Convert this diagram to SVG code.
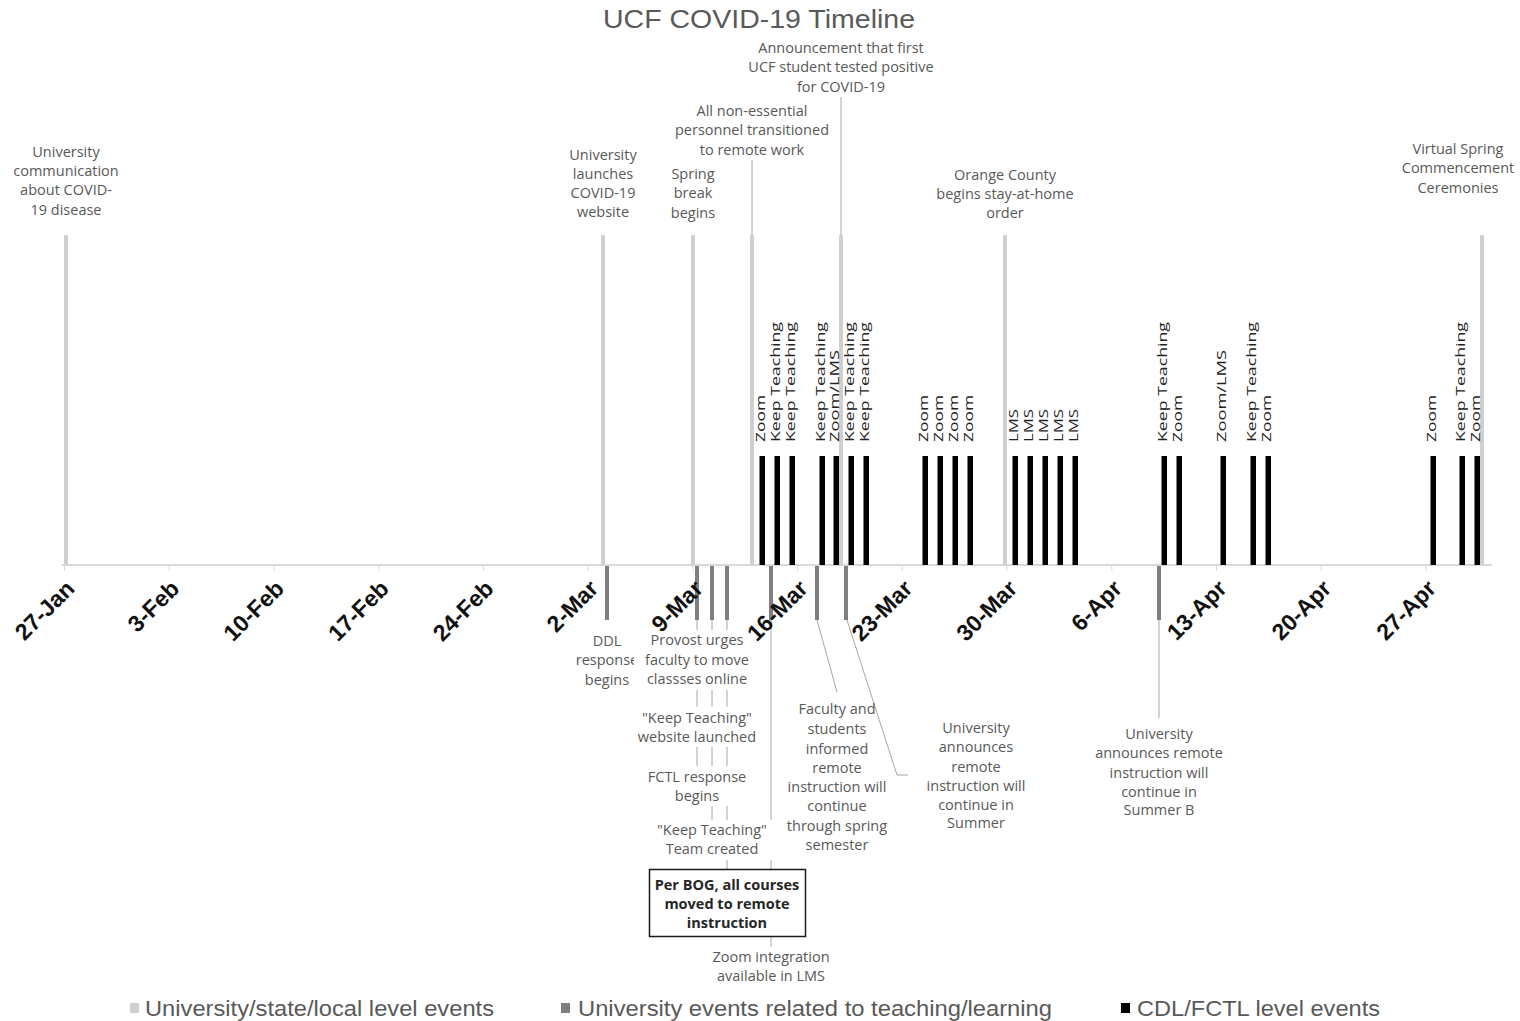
<svg xmlns="http://www.w3.org/2000/svg" width="1520" height="1021" viewBox="0 0 1520 1021">
<style>
.t{font-family:"Open Sans","Liberation Sans",sans-serif;font-size:14.5px;fill:#595959;text-anchor:middle}
.tb{font-family:"Open Sans","Liberation Sans",sans-serif;font-size:14.5px;fill:#262626;text-anchor:middle;font-weight:bold}
.rl{font-family:"Open Sans","Liberation Sans",sans-serif;font-size:13.5px;fill:#222}
.ax{font-family:"Liberation Sans",Arial,sans-serif;font-size:23px;font-weight:bold;fill:#111;text-anchor:end}
.lg{font-family:"Liberation Sans",Arial,sans-serif;font-size:22px;fill:#595959}
.b1{fill:#cfcfcf}
.b2{fill:#7f7f7f}
.b3{fill:#000}
.ld{stroke:#a6a6a6;stroke-width:1;fill:none}
.bg{fill:#fff}
</style>
<rect width="1520" height="1021" fill="#fff"/>
<text x="759" y="28" font-family="Liberation Sans, Arial, sans-serif" font-size="25" fill="#595959" text-anchor="middle" textLength="312" lengthAdjust="spacingAndGlyphs">UCF COVID-19 Timeline</text>

<g id="axis">
<line x1="62" y1="565" x2="1492" y2="565" stroke="#d9d9d9" stroke-width="2"/>
<g stroke="#d9d9d9" stroke-width="1">
<line x1="64.5" y1="565" x2="64.5" y2="571"/><line x1="169.2" y1="565" x2="169.2" y2="571"/><line x1="273.9" y1="565" x2="273.9" y2="571"/><line x1="378.7" y1="565" x2="378.7" y2="571"/><line x1="483.4" y1="565" x2="483.4" y2="571"/><line x1="588.2" y1="565" x2="588.2" y2="571"/><line x1="692.9" y1="565" x2="692.9" y2="571"/><line x1="797.6" y1="565" x2="797.6" y2="571"/><line x1="902.3" y1="565" x2="902.3" y2="571"/><line x1="1007" y1="565" x2="1007" y2="571"/><line x1="1111.8" y1="565" x2="1111.8" y2="571"/><line x1="1216.5" y1="565" x2="1216.5" y2="571"/><line x1="1321.2" y1="565" x2="1321.2" y2="571"/><line x1="1425.9" y1="565" x2="1425.9" y2="571"/>
</g>
</g>

<g id="connectors">
<line class="ld" x1="752" y1="160" x2="752" y2="236"/>
<line class="ld" x1="841" y1="97" x2="841" y2="236"/>
<line class="ld" x1="697" y1="620" x2="697" y2="770"/>
<line class="ld" x1="712" y1="620" x2="712" y2="822"/>
<line class="ld" x1="727" y1="620" x2="727" y2="869"/>
<line class="ld" x1="771" y1="620" x2="771" y2="948"/>
<line class="ld" x1="817" y1="620" x2="837" y2="692"/>
<polyline class="ld" points="847,620 897,775 908,775"/>
<line class="ld" x1="1159" y1="620" x2="1159" y2="718"/>
</g>

<!-- University/state/local level events -->
<g id="ev-comm"><rect class="b1" x="64" y="235" width="4" height="330"/>
<text class="t"><tspan x="66" y="157">University</tspan><tspan x="66" y="176">communication</tspan><tspan x="66" y="195">about COVID-</tspan><tspan x="66" y="215">19 disease</tspan></text></g>
<g id="ev-website"><rect class="b1" x="601" y="235" width="4" height="330"/>
<text class="t"><tspan x="603" y="160">University</tspan><tspan x="603" y="179">launches</tspan><tspan x="603" y="198">COVID-19</tspan><tspan x="603" y="217">website</tspan></text></g>
<g id="ev-spring"><rect class="b1" x="691" y="235" width="4" height="330"/>
<text class="t"><tspan x="693" y="179">Spring</tspan><tspan x="693" y="198">break</tspan><tspan x="693" y="218">begins</tspan></text></g>
<g id="ev-remote-work"><rect class="b1" x="750" y="235" width="4" height="330"/>
<text class="t"><tspan x="752" y="116">All non-essential</tspan><tspan x="752" y="135">personnel transitioned</tspan><tspan x="752" y="155">to remote work</tspan></text></g>
<g id="ev-positive"><rect class="b1" x="839" y="235" width="4" height="330"/>
<text class="t"><tspan x="841" y="53">Announcement that first</tspan><tspan x="841" y="72">UCF student tested positive</tspan><tspan x="841" y="92">for COVID-19</tspan></text></g>
<g id="ev-orange"><rect class="b1" x="1003" y="235" width="4" height="330"/>
<text class="t"><tspan x="1005" y="180">Orange County</tspan><tspan x="1005" y="199">begins stay-at-home</tspan><tspan x="1005" y="218">order</tspan></text></g>
<g id="ev-commencement"><rect class="b1" x="1480" y="235" width="4" height="330"/>
<text class="t"><tspan x="1458" y="154">Virtual Spring</tspan><tspan x="1458" y="173">Commencement</tspan><tspan x="1458" y="193">Ceremonies</tspan></text></g>

<!-- CDL/FCTL level events -->
<g id="cdl-events">
<g class="b3">
<rect x="759.5" y="456" width="5.5" height="109"/><rect x="774.5" y="456" width="5.5" height="109"/><rect x="789.5" y="456" width="5.5" height="109"/><rect x="819.5" y="456" width="5.5" height="109"/><rect x="833.5" y="456" width="5.5" height="109"/><rect x="848.5" y="456" width="5.5" height="109"/><rect x="863.5" y="456" width="5.5" height="109"/>
<rect x="922.5" y="456" width="5.5" height="109"/><rect x="937.5" y="456" width="5.5" height="109"/><rect x="952.5" y="456" width="5.5" height="109"/><rect x="967.5" y="456" width="5.5" height="109"/>
<rect x="1012.5" y="456" width="5.5" height="109"/><rect x="1027.5" y="456" width="5.5" height="109"/><rect x="1042.5" y="456" width="5.5" height="109"/><rect x="1057.5" y="456" width="5.5" height="109"/><rect x="1072.5" y="456" width="5.5" height="109"/>
<rect x="1161.5" y="456" width="5.5" height="109"/><rect x="1176.5" y="456" width="5.5" height="109"/><rect x="1220.5" y="456" width="5.5" height="109"/><rect x="1250.5" y="456" width="5.5" height="109"/><rect x="1265.5" y="456" width="5.5" height="109"/>
<rect x="1430.5" y="456" width="5.5" height="109"/><rect x="1459.5" y="456" width="5.5" height="109"/><rect x="1474.5" y="456" width="5.5" height="109"/>
</g>
<text class="rl" transform="translate(765,442) rotate(-90)" textLength="47" lengthAdjust="spacingAndGlyphs">Zoom</text>
<text class="rl" transform="translate(780,442) rotate(-90)" textLength="120" lengthAdjust="spacingAndGlyphs">Keep Teaching</text>
<text class="rl" transform="translate(795,442) rotate(-90)" textLength="120" lengthAdjust="spacingAndGlyphs">Keep Teaching</text>
<text class="rl" transform="translate(825,442) rotate(-90)" textLength="120" lengthAdjust="spacingAndGlyphs">Keep Teaching</text>
<text class="rl" transform="translate(839,442) rotate(-90)" textLength="92" lengthAdjust="spacingAndGlyphs">Zoom/LMS</text>
<text class="rl" transform="translate(854,442) rotate(-90)" textLength="120" lengthAdjust="spacingAndGlyphs">Keep Teaching</text>
<text class="rl" transform="translate(869,442) rotate(-90)" textLength="120" lengthAdjust="spacingAndGlyphs">Keep Teaching</text>
<text class="rl" transform="translate(928,442) rotate(-90)" textLength="47" lengthAdjust="spacingAndGlyphs">Zoom</text>
<text class="rl" transform="translate(943,442) rotate(-90)" textLength="47" lengthAdjust="spacingAndGlyphs">Zoom</text>
<text class="rl" transform="translate(958,442) rotate(-90)" textLength="47" lengthAdjust="spacingAndGlyphs">Zoom</text>
<text class="rl" transform="translate(973,442) rotate(-90)" textLength="47" lengthAdjust="spacingAndGlyphs">Zoom</text>
<text class="rl" transform="translate(1018,442) rotate(-90)" textLength="33" lengthAdjust="spacingAndGlyphs">LMS</text>
<text class="rl" transform="translate(1033,442) rotate(-90)" textLength="33" lengthAdjust="spacingAndGlyphs">LMS</text>
<text class="rl" transform="translate(1048,442) rotate(-90)" textLength="33" lengthAdjust="spacingAndGlyphs">LMS</text>
<text class="rl" transform="translate(1063,442) rotate(-90)" textLength="33" lengthAdjust="spacingAndGlyphs">LMS</text>
<text class="rl" transform="translate(1078,442) rotate(-90)" textLength="33" lengthAdjust="spacingAndGlyphs">LMS</text>
<text class="rl" transform="translate(1167,442) rotate(-90)" textLength="120" lengthAdjust="spacingAndGlyphs">Keep Teaching</text>
<text class="rl" transform="translate(1182,442) rotate(-90)" textLength="47" lengthAdjust="spacingAndGlyphs">Zoom</text>
<text class="rl" transform="translate(1226,442) rotate(-90)" textLength="92" lengthAdjust="spacingAndGlyphs">Zoom/LMS</text>
<text class="rl" transform="translate(1256,442) rotate(-90)" textLength="120" lengthAdjust="spacingAndGlyphs">Keep Teaching</text>
<text class="rl" transform="translate(1271,442) rotate(-90)" textLength="47" lengthAdjust="spacingAndGlyphs">Zoom</text>
<text class="rl" transform="translate(1436,442) rotate(-90)" textLength="47" lengthAdjust="spacingAndGlyphs">Zoom</text>
<text class="rl" transform="translate(1465,442) rotate(-90)" textLength="120" lengthAdjust="spacingAndGlyphs">Keep Teaching</text>
<text class="rl" transform="translate(1480,442) rotate(-90)" textLength="47" lengthAdjust="spacingAndGlyphs">Zoom</text>
</g>

<!-- University events related to teaching/learning -->
<g id="ev-ddl"><rect class="b2" x="605" y="566" width="4" height="54"/>
<text class="t"><tspan x="607" y="646">DDL</tspan><tspan x="607" y="665">response</tspan><tspan x="607" y="685">begins</tspan></text></g>
<g id="ev-provost"><rect class="b2" x="695" y="566" width="4" height="54"/>
<rect class="bg" x="634" y="630" width="126" height="60"/>
<text class="t"><tspan x="697" y="645">Provost urges</tspan><tspan x="697" y="665">faculty to move</tspan><tspan x="697" y="684">classses online</tspan></text></g>
<g id="ev-kt-website"><rect class="b2" x="710" y="566" width="4" height="54"/>
<rect class="bg" x="636" y="707" width="122" height="40"/>
<text class="t"><tspan x="697" y="723">"Keep Teaching"</tspan><tspan x="697" y="742">website launched</tspan></text></g>
<g id="ev-fctl"><rect class="b2" x="725" y="566" width="4" height="54"/>
<rect class="bg" x="646" y="766" width="104" height="40"/>
<text class="t"><tspan x="697" y="782">FCTL response</tspan><tspan x="697" y="801">begins</tspan></text></g>
<g id="ev-kt-team">
<rect class="bg" x="650" y="820" width="126" height="40"/>
<text class="t"><tspan x="712" y="835">"Keep Teaching"</tspan><tspan x="712" y="854">Team created</tspan></text></g>
<g id="ev-bog">
<rect x="649.5" y="869.5" width="156" height="67" fill="#fff" stroke="#1a1a1a" stroke-width="1.5"/>
<text class="tb"><tspan x="727" y="890">Per BOG, all courses</tspan><tspan x="727" y="909">moved to remote</tspan><tspan x="727" y="928">instruction</tspan></text></g>
<g id="ev-zoom-lms"><rect class="b2" x="769" y="566" width="4" height="54"/>
<rect class="bg" x="708" y="947" width="126" height="40"/>
<text class="t"><tspan x="771" y="962">Zoom integration</tspan><tspan x="771" y="981">available in LMS</tspan></text></g>
<g id="ev-spring-semester"><rect class="b2" x="815" y="566" width="4" height="54"/>
<text class="t"><tspan x="837" y="714">Faculty and</tspan><tspan x="837" y="734">students</tspan><tspan x="837" y="754">informed</tspan><tspan x="837" y="773">remote</tspan><tspan x="837" y="792">instruction will</tspan><tspan x="837" y="811">continue</tspan><tspan x="837" y="831">through spring</tspan><tspan x="837" y="850">semester</tspan></text></g>
<g id="ev-summer"><rect class="b2" x="844" y="566" width="4" height="54"/>
<text class="t"><tspan x="976" y="733">University</tspan><tspan x="976" y="752">announces</tspan><tspan x="976" y="772">remote</tspan><tspan x="976" y="791">instruction will</tspan><tspan x="976" y="810">continue in</tspan><tspan x="976" y="828">Summer</tspan></text></g>
<g id="ev-summer-b"><rect class="b2" x="1157" y="566" width="4" height="54"/>
<text class="t"><tspan x="1159" y="739">University</tspan><tspan x="1159" y="758">announces remote</tspan><tspan x="1159" y="778">instruction will</tspan><tspan x="1159" y="797">continue in</tspan><tspan x="1159" y="815">Summer B</tspan></text></g>

<g id="axis-labels">
<text class="ax" transform="translate(76,590) rotate(-45)">27-Jan</text>
<text class="ax" transform="translate(180.7,590) rotate(-45)">3-Feb</text>
<text class="ax" transform="translate(285.4,590) rotate(-45)">10-Feb</text>
<text class="ax" transform="translate(390.2,590) rotate(-45)">17-Feb</text>
<text class="ax" transform="translate(494.9,590) rotate(-45)">24-Feb</text>
<text class="ax" transform="translate(599.7,590) rotate(-45)">2-Mar</text>
<text class="ax" transform="translate(704.4,590) rotate(-45)">9-Mar</text>
<text class="ax" transform="translate(809.1,590) rotate(-45)">16-Mar</text>
<text class="ax" transform="translate(913.8,590) rotate(-45)">23-Mar</text>
<text class="ax" transform="translate(1018.5,590) rotate(-45)">30-Mar</text>
<text class="ax" transform="translate(1123.3,590) rotate(-45)">6-Apr</text>
<text class="ax" transform="translate(1228,590) rotate(-45)">13-Apr</text>
<text class="ax" transform="translate(1332.7,590) rotate(-45)">20-Apr</text>
<text class="ax" transform="translate(1437.4,590) rotate(-45)">27-Apr</text>
</g>

<g id="legend">
<rect class="b1" x="130" y="1003" width="9" height="10"/>
<text class="lg" x="145" y="1016" textLength="349" lengthAdjust="spacingAndGlyphs">University/state/local level events</text>
<rect class="b2" x="561" y="1003" width="9" height="10"/>
<text class="lg" x="578" y="1016" textLength="474" lengthAdjust="spacingAndGlyphs">University events related to teaching/learning</text>
<rect class="b3" x="1121" y="1003" width="9" height="10"/>
<text class="lg" x="1137" y="1016" textLength="243" lengthAdjust="spacingAndGlyphs">CDL/FCTL level events</text>
</g>
</svg>
